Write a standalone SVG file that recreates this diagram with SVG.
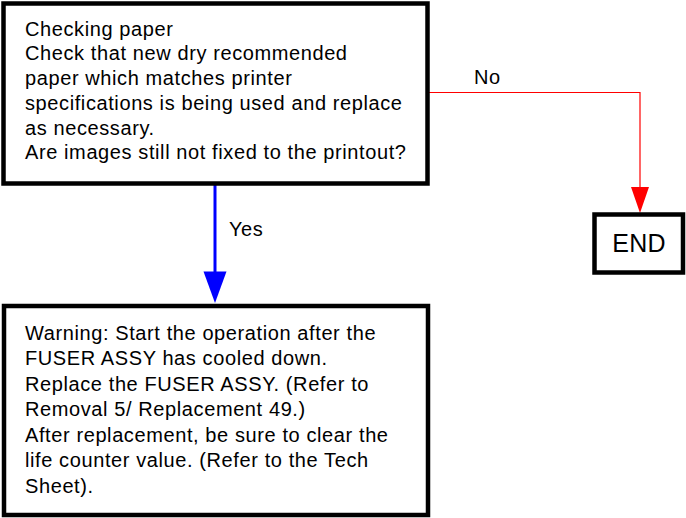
<svg xmlns="http://www.w3.org/2000/svg" width="686" height="518" viewBox="0 0 686 518">
<style>
.box{fill:#fff;stroke:#000;stroke-width:4.5}
.t{font-family:"Liberation Sans",Arial,sans-serif;font-size:20px;letter-spacing:0.6px;fill:#000}
.end{font-family:"Liberation Sans",Arial,sans-serif;font-size:25px;letter-spacing:0.3px;fill:#000}
</style>
<g id="connectors">
<line x1="215" y1="185" x2="215" y2="272" stroke="#0000FF" stroke-width="3"/>
<path d="M203.5,271.5 L226.5,271.5 L215,303 Z" fill="#0000FF"/>
<polyline points="429,92.5 640,92.5 640,188" fill="none" stroke="#FF0000" stroke-width="1.2"/>
<path d="M631,187 L649,187 L640,213 Z" fill="#FF0000"/>
<text class="t" x="474" y="84">No</text>
<text class="t" x="229" y="236">Yes</text>
</g>
<g id="check">
<rect class="box" x="3.5" y="3.5" width="424" height="180"/>
<text class="t" x="25" y="35.5">Checking paper</text>
<text class="t" x="25" y="60.2">Check that new dry recommended</text>
<text class="t" x="25" y="85">paper which matches printer</text>
<text class="t" x="25" y="109.7">specifications is being used and replace</text>
<text class="t" x="25" y="134.5">as necessary.</text>
<text class="t" x="25" y="159.2">Are images still not fixed to the printout?</text>
</g>
<g id="end">
<rect class="box" x="594.5" y="214.5" width="88.5" height="58"/>
<text class="end" x="639" y="252" text-anchor="middle">END</text>
</g>
<g id="replace">
<rect class="box" x="4" y="306" width="424" height="209"/>
<text class="t" x="25" y="339.5">Warning: Start the operation after the</text>
<text class="t" x="25" y="365">FUSER ASSY has cooled down.</text>
<text class="t" x="25" y="390.6">Replace the FUSER ASSY. (Refer to</text>
<text class="t" x="25" y="416.1">Removal 5/ Replacement 49.)</text>
<text class="t" x="25" y="441.7">After replacement, be sure to clear the</text>
<text class="t" x="25" y="467.2">life counter value. (Refer to the Tech</text>
<text class="t" x="25" y="492.8">Sheet).</text>
</g>
</svg>
